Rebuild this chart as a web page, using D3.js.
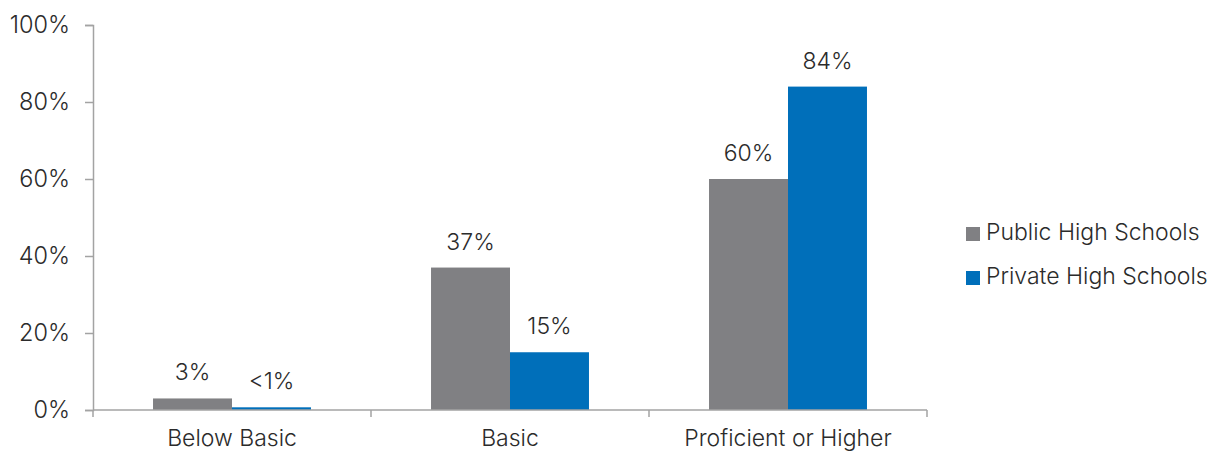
<!DOCTYPE html>
<html><head><meta charset="utf-8">
<script src="https://cdn.jsdelivr.net/npm/d3@7/dist/d3.min.js"></script>
<style>
html,body{margin:0;padding:0;background:#fff;}
svg{display:block;}
text{font-family:Inter,"Open Sans",sans-serif;font-weight:300;fill:#2b2b2b;}
</style></head>
<body>
<script>
const categories = ["Below Basic", "Basic", "Proficient or Higher"];
const seriesNames = ["Public High Schools", "Private High Schools"];
const publicValues = [3, 37, 60];
const privateValues = [0.7, 15, 84];
const valueLabels = [["3%", "37%", "60%"], ["<1%", "15%", "84%"]];
const yTicks = [0, 20, 40, 60, 80, 100];
const colors = ["#808083", "#006fba"];

const W = 1211, H = 452;
const svg = d3.select("body").append("svg").attr("width", W).attr("height", H);

const x0 = d3.scaleBand().domain(categories).range([93, 927]).paddingInner(0).paddingOuter(0);
const x1 = d3.scaleBand().domain(seriesNames).range([0, x0.bandwidth()]).paddingInner(0).paddingOuter(0.76);
const y = d3.scaleLinear().domain([0, 100]).range([410, 25]);

const seriesValues = [publicValues, privateValues];

// Y axis
const yAxis = svg.append("g").attr("transform", "translate(93,0)")
  .call(d3.axisLeft(y).tickValues(yTicks).tickFormat(d => d + "%").tickSize(8).tickPadding(15));
yAxis.select(".domain").attr("stroke", "#a3a3a3").attr("stroke-width", 1.5);
yAxis.selectAll(".tick line").attr("stroke", "#a3a3a3").attr("stroke-width", 1.5);
yAxis.selectAll(".tick text").style("font-size", "23.5px").attr("font-family", null).attr("fill", "#2b2b2b");

// bars
const groups = svg.append("g").selectAll("g").data(categories).join("g")
  .attr("transform", d => `translate(${x0(d)},0)`);
seriesNames.forEach((s, si) => {
  groups.append("rect")
    .attr("x", x1(s))
    .attr("width", x1.bandwidth())
    .attr("y", (d, i) => y(seriesValues[si][i]))
    .attr("height", (d, i) => y(0) - y(seriesValues[si][i]))
    .attr("fill", colors[si]);
  groups.append("text")
    .attr("x", x1(s) + x1.bandwidth() / 2)
    .attr("y", (d, i) => y(seriesValues[si][i]) - 18)
    .attr("text-anchor", "middle")
    .style("font-size", "23px")
    .text((d, i) => valueLabels[si][i]);
});

// X axis
const xAxis = svg.append("g").attr("transform", "translate(0,410)")
  .call(d3.axisBottom(x0).tickSize(0).tickPadding(0).tickFormat(""));
xAxis.select(".domain").attr("stroke", "#a3a3a3").attr("stroke-width", 1.5).attr("d", "M93,0H927");
xAxis.selectAll(".tick").remove();
const bounds = [x0(categories[0])].concat(categories.map(c => x0(c) + x0.bandwidth()));
xAxis.selectAll("line.sep").data(bounds).join("line").attr("class", "sep")
  .attr("x1", d => d).attr("x2", d => d).attr("y1", 0).attr("y2", 7)
  .attr("stroke", "#a3a3a3").attr("stroke-width", 1.5);
xAxis.selectAll("text.cat").data(categories).join("text").attr("class", "cat")
  .attr("x", d => x0(d) + x0.bandwidth() / 2)
  .attr("y", 36)
  .attr("text-anchor", "middle")
  .style("font-size", "23px")
  .text(d => d);

// legend
const legend = svg.append("g").attr("transform", "translate(966,227)");
seriesNames.forEach((s, i) => {
  const g = legend.append("g").attr("transform", `translate(0,${i * 44})`);
  g.append("rect").attr("width", 14).attr("height", 14).attr("fill", colors[i]);
  g.append("text").attr("x", 20).attr("y", 13).style("font-size", "23px").text(s);
});
</script>
</body></html>
